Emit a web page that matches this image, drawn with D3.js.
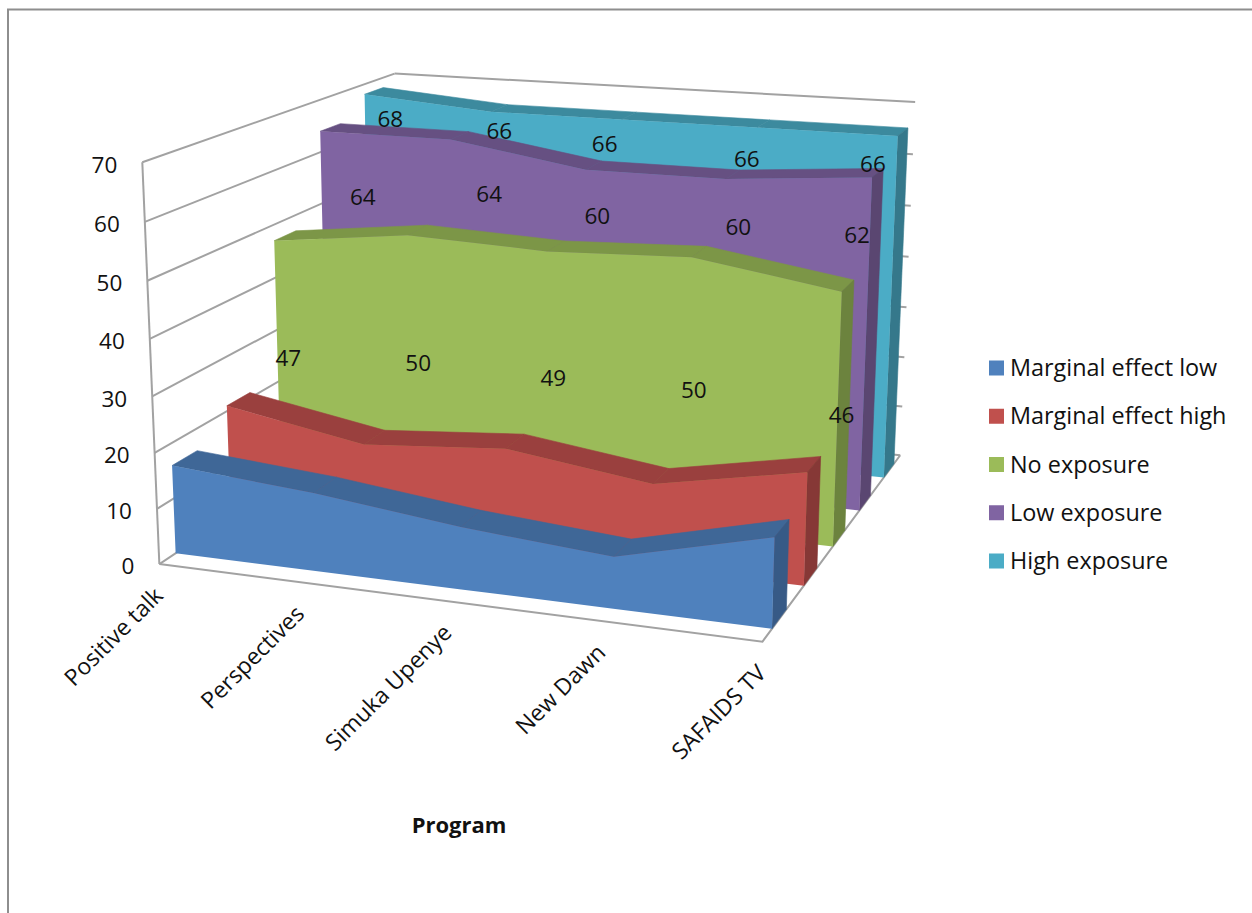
<!DOCTYPE html>
<html>
<head>
<meta charset="utf-8">
<script src="https://cdn.jsdelivr.net/npm/d3@7/dist/d3.min.js"></script>
<style>
  html, body { margin: 0; padding: 0; background: #fff; }
  text { font-family: "Open Sans", Lato, sans-serif; fill: #111; }
</style>
</head>
<body>
<svg id="chart" width="1252" height="913"></svg>
<script>
// Chart data
const categories = ["Positive talk", "Perspectives", "Simuka Upenye", "New Dawn", "SAFAIDS TV"];
const seriesNames = ["Marginal effect low", "Marginal effect high", "No exposure", "Low exposure", "High exposure"];
const marginalLow = [16, 14, 11, 9, 15.5];
const marginalHigh = [21, 16.5, 18.5, 15, 20];
const noExposure = [47, 50, 49, 50, 46];
const lowExposure = [64, 64, 60, 60, 62];
const highExposure = [68, 66, 66, 66, 66];
const valueTicks = [0, 10, 20, 30, 40, 50, 60, 70];
const axisTitle = "Program";

// Face, top and end-cap shades for each series
const faceColors = ["#4F81BD", "#C0504D", "#9BBB59", "#8064A2", "#4BACC6"];
const capColors = ["#3F6797", "#9A403E", "#7C9647", "#665082", "#3C8A9E"];
const sideColors = ["#375A86", "#863836", "#6C833E", "#5A4671", "#35788B"];

const seriesValues = [marginalLow, marginalHigh, noExposure, lowExposure, highExposure];

// Value label placement: height as a share of the value, then a small shift in pixels
const labelLift = [null, null, 0.52, 0.8, 0.94];
const labelShift = [
  null,
  null,
  [[0, 5], [-1, 6], [-2, 5], [-3, 7], [-2, 6]],
  [[31, 4], [29, -8], [4, -12], [7, -12], [-18, -6]],
  [[16, 8], [0, 3], [-24, 8], [-16, 15], [-29, 11]]
];

const svg = d3.select("#chart");

// Scales into the unit box: across, deep, up
const across = d3.scalePoint().domain(categories).range([0, 1]);
const deep = d3.scaleBand().domain(seriesNames).range([0, 1]).paddingInner(0.56).paddingOuter(0.28);
const up = d3.scaleLinear().domain([0, 70]).range([0, 1]);

// Where points of the unit box land on the page, with a weight for the fit
const boxAnchors = [
  [[0, 0, 0], [159, 563], 4],
  [[1, 0, 0], [763, 642], 4],
  [[1, 1, 0], [900, 455], 4],
  [[0, 0, 1], [142, 163], 4],
  [[0, 1, 1], [395, 73], 4],
  [[1, 1, 1], [915, 102], 4],
  [[0, 1, 0], [400, 418], 1],
  [[1, 1, 6 / 7], [912, 155], 1],
  [[1, 1, 3 / 7], [906, 307], 1],
  [[0, 0, 4 / 7], [152, 339], 1]
];

// Weighted least-squares fit of a 3x4 perspective matrix through the anchors
function fitCamera(anchors) {
  const rows = [], rhs = [];
  anchors.forEach(([[a, b, c], [x, y], k]) => {
    rows.push([a, b, c, 1, 0, 0, 0, 0, -x * a, -x * b, -x * c].map(v => v * k)); rhs.push(x * k);
    rows.push([0, 0, 0, 0, a, b, c, 1, -y * a, -y * b, -y * c].map(v => v * k)); rhs.push(y * k);
  });
  const n = 11;
  const m = d3.range(n).map(i => d3.range(n + 1).map(j =>
    d3.sum(rows, (r, k) => r[i] * (j < n ? r[j] : rhs[k]))));
  for (let i = 0; i < n; i++) {
    let p = i;
    for (let k = i + 1; k < n; k++) if (Math.abs(m[k][i]) > Math.abs(m[p][i])) p = k;
    [m[i], m[p]] = [m[p], m[i]];
    for (let k = 0; k < n; k++) {
      if (k === i) continue;
      const f = m[k][i] / m[i][i];
      for (let j = i; j <= n; j++) m[k][j] -= f * m[i][j];
    }
  }
  return m.map((r, i) => r[n] / r[i]);
}
const cam = fitCamera(boxAnchors);
function project(a, b, c) {
  const w = cam[8] * a + cam[9] * b + cam[10] * c + 1;
  return [
    (cam[0] * a + cam[1] * b + cam[2] * c + cam[3]) / w,
    (cam[4] * a + cam[5] * b + cam[6] * c + cam[7]) / w
  ];
}

const outline = d3.line();
const polygon = pts => outline(pts) + "Z";
const WALL = "#A2A2A2";

// Outer frame, open to the right and the bottom
svg.append("path").attr("d", "M8,913V9.5H1252").attr("fill", "none").attr("stroke", "#8E8E8E").attr("stroke-width", 2);

// Walls and gridlines
const walls = svg.append("g").attr("fill", "none").attr("stroke", WALL).attr("stroke-width", 2);
valueTicks.forEach(t => {
  walls.append("path").attr("d", outline([project(0, 0, up(t)), project(0, 1, up(t))]));
  walls.append("path").attr("d", outline([project(0, 1, up(t)), project(1, 1, up(t))]));
});
walls.append("path").attr("d", outline([project(0, 0, 0), project(0, 0, 1)]));
walls.append("path").attr("d", outline([project(0, 0, 0), project(1, 0, 0), project(1, 1, 0)]));

// Slabs, back to front
d3.range(seriesNames.length - 1, -1, -1).forEach(s => {
  const name = seriesNames[s], vals = seriesValues[s];
  const d0 = deep(name), d1 = d0 + deep.bandwidth();
  const g = svg.append("g");
  const edge = (d, c) => project(across(c), d, 0);
  const top = (d, i) => project(across(categories[i]), d, up(vals[i]));
  d3.pairs(d3.range(categories.length)).forEach(([i, j]) => {
    g.append("path")
      .attr("d", polygon([top(d0, i), top(d0, j), top(d1, j), top(d1, i)]))
      .attr("fill", capColors[s]).attr("stroke", capColors[s]).attr("stroke-width", 0.6);
  });
  const last = categories.length - 1;
  g.append("path")
    .attr("d", polygon([edge(d0, categories[last]), edge(d1, categories[last]), top(d1, last), top(d0, last)]))
    .attr("fill", sideColors[s]).attr("stroke", sideColors[s]).attr("stroke-width", 0.6);
  const face = categories.map((c, i) => top(d0, i))
    .concat(categories.map(c => edge(d0, c)).reverse());
  g.append("path").attr("d", polygon(face)).attr("fill", faceColors[s]);
});

// Value labels
d3.range(seriesNames.length).forEach(s => {
  if (labelLift[s] === null) return;
  const name = seriesNames[s];
  seriesValues[s].forEach((v, i) => {
    const [x, y] = project(across(categories[i]), deep(name) + deep.bandwidth() / 2, up(v) * labelLift[s]);
    const [dx, dy] = labelShift[s][i];
    svg.append("text").attr("x", x + dx).attr("y", y + dy).attr("dy", "0.35em")
      .attr("text-anchor", "middle").attr("font-size", 22.5).text(v);
  });
});

// Value axis labels beside the front edge of the left wall
valueTicks.forEach(t => {
  const [x, y] = project(0, 0, up(t));
  svg.append("text").attr("x", x - 25).attr("y", y + 2.5).attr("dy", "0.35em")
    .attr("text-anchor", "end").attr("font-size", 22.5).text(t);
});

// Category labels, slanted under the floor edge
categories.forEach(c => {
  const [x, y] = project(across(c), 0, 0);
  svg.append("text")
    .attr("transform", `translate(${x + 5},${y + 33}) rotate(-45)`)
    .attr("text-anchor", "end").attr("font-size", 23).text(c);
});

// Axis title
svg.append("text").attr("x", 459).attr("y", 825).attr("dy", "0.35em")
  .attr("text-anchor", "middle").attr("font-size", 22).attr("font-weight", 700).text(axisTitle);

// Legend
const legendY = d3.scalePoint().domain(seriesNames).range([368, 561]);
seriesNames.forEach((name, s) => {
  const y = legendY(name);
  svg.append("rect").attr("x", 989).attr("y", y - 7.5).attr("width", 15).attr("height", 15).attr("fill", faceColors[s]);
  svg.append("text").attr("x", 1010).attr("y", y).attr("dy", "0.35em").attr("font-size", 23.4).text(name);
});
</script>
</body>
</html>
